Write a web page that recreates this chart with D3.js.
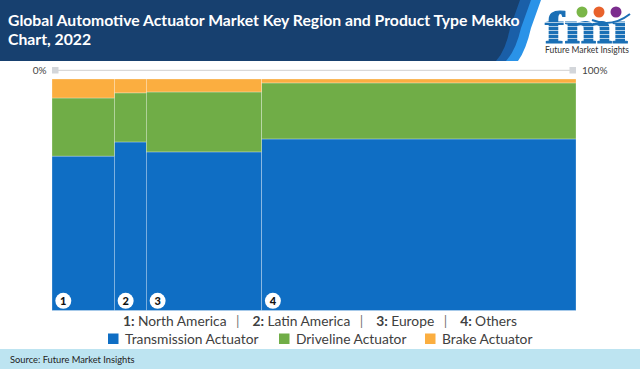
<!DOCTYPE html>
<html>
<head>
<meta charset="utf-8">
<script src="https://cdn.jsdelivr.net/npm/d3@7"></script>
<style>
  html, body { margin: 0; padding: 0; background: #fff; }
  svg { display: block; }
  text { font-family: Lato, "Open Sans", sans-serif; }
</style>
</head>
<body>
<div id="chart"></div>
<script>
// data
const regions = ['North America', 'Latin America', 'Europe', 'Others'];
const regionShare = [11.9, 6.1, 22, 60];
const products = ['Transmission Actuator', 'Driveline Actuator', 'Brake Actuator'];
const transmission = [66.7, 72.8, 68.5, 74.1];
const driveline = [25.1, 21.2, 25.9, 24.2];
const brake = [8.2, 6, 5.6, 1.7];
const axisLabels = ['0%', '100%'];
const titleLines = ['Global Automotive Actuator Market Key Region and Product Type Mekko', 'Chart, 2022'];
const sourceText = 'Source: Future Market Insights';

const colors = ['#0f6ec4', '#70ad47', '#fbae40'];

const W = 640, H = 369;
const svg = d3.select('#chart').append('svg').attr('width', W).attr('height', H);

// header band with the two slanted strips on its right end
svg.append('path').attr('d', 'M541,0 L531,28 Q526,50 518,61 L0,61 L0,0 Z').attr('fill', '#2a93e8');
svg.append('path').attr('d', 'M531,0 L521,28 Q516,50 506,61 L0,61 L0,0 Z').attr('fill', '#1a5fa8');
svg.append('path').attr('d', 'M520,0 L510,28 Q506,50 496,61 L0,61 L0,0 Z').attr('fill', '#17406f');

svg.selectAll('.title').data(titleLines).enter().append('text')
    .attr('class', 'title')
    .attr('x', 8)
    .attr('y', (d, i) => 26 + i * 18.5)
    .attr('fill', '#fff')
    .attr('font-size', '15.75px')
    .attr('font-weight', 700)
    .text(d => d);

// logo
let logo = svg.append('g');
logo.append('text').attr('x', 545).attr('y', 43)
    .attr('font-size', '46px').attr('font-weight', 700)
    .style('font-family', '"Liberation Serif", serif')
    .attr('fill', '#1a6fb5').attr('stroke', '#1a6fb5').attr('stroke-width', 1.2)
    .attr('textLength', 83).attr('lengthAdjust', 'spacingAndGlyphs')
    .text('fmi');
// stripes across the letters
[22, 26, 30, 34, 38].forEach(function (y) {
    logo.append('rect').attr('x', 544).attr('y', y).attr('width', 86).attr('height', 1).attr('fill', '#fff').attr('opacity', 0.65);
});
// hide the dot of the i, the circles and the swoosh stand in for it
logo.append('rect').attr('x', 610).attr('y', 6).attr('width', 20).attr('height', 14).attr('fill', '#fff');
[[582, '#7ab648'], [599, '#e8622c'], [616, '#7b2d8e']].forEach(function (c) {
    logo.append('circle').attr('cx', c[0]).attr('cy', 12).attr('r', 5.5).attr('fill', c[1]);
});
logo.append('path').attr('d', 'M592,20 Q612,28 630,14').attr('fill', 'none').attr('stroke', '#1a6fb5').attr('stroke-width', 2);
logo.append('text').attr('x', 545).attr('y', 52.5).attr('font-size', '8.5px').attr('fill', '#333')
    .text('Future Market Insights');

// scales
let x = d3.scaleLinear().domain([0, 100]).range([52, 576]);
let y = d3.scaleLinear().domain([0, 100]).range([310.5, 79]);

// top axis line with the two end markers
let axisY = 70.3;
svg.append('line').attr('x1', x(0)).attr('x2', x(100)).attr('y1', axisY).attr('y2', axisY)
    .attr('stroke', '#d0d0d0').attr('stroke-width', 1);
svg.selectAll('.endmark').data([0, 100]).enter().append('rect')
    .attr('class', 'endmark')
    .attr('x', d => d ? x(d) - 6.5 : x(d))
    .attr('y', axisY - 3.3)
    .attr('width', 6.5).attr('height', 6.5)
    .attr('fill', '#d3d6da');
svg.append('text').attr('x', 46.5).attr('y', axisY + 3.5).attr('text-anchor', 'end')
    .attr('font-size', '10px').attr('fill', '#444').text(axisLabels[0]);
svg.append('text').attr('x', 582).attr('y', axisY + 3.5)
    .attr('font-size', '10px').attr('fill', '#444').text(axisLabels[1]);

// mekko columns
let rows = regions.map(function (r, i) {
    return { region: r, share: regionShare[i], s0: transmission[i], s1: driveline[i], s2: brake[i] };
});
let stack = d3.stack().keys(['s0', 's1', 's2']);
let starts = d3.cumsum(regionShare);

let layers = svg.selectAll('.layer').data(stack(rows)).enter().append('g')
    .attr('class', 'layer')
    .attr('fill', (d, i) => colors[i]);
layers.selectAll('rect').data(d => d).enter().append('rect')
    .attr('x', (d, i) => x(starts[i] - regionShare[i]))
    .attr('width', (d, i) => x(starts[i]) - x(starts[i] - regionShare[i]))
    .attr('y', d => y(d[1]))
    .attr('height', d => y(d[0]) - y(d[1]))
    .attr('stroke', 'rgba(255,255,255,0.45)')
    .attr('stroke-width', 0.6);

// numbered badges
let badges = svg.selectAll('.badge').data(regions).enter().append('g')
    .attr('class', 'badge')
    .attr('transform', (d, i) => 'translate(' + (x(starts[i] - regionShare[i]) + 11.3) + ',300.8)');
badges.append('circle').attr('r', 8).attr('fill', '#fff');
badges.append('text').attr('y', 4).attr('text-anchor', 'middle')
    .attr('font-size', '11px').attr('font-weight', 900).attr('fill', '#111')
    .text((d, i) => i + 1);

// region key line
let key = svg.append('text').attr('x', 320).attr('y', 325.5).attr('text-anchor', 'middle')
    .attr('font-size', '13.8px').attr('fill', '#404040');
regions.forEach(function (r, i) {
    key.append('tspan').attr('font-weight', 700).text((i + 1) + ': ');
    key.append('tspan').text(r);
    if (i < regions.length - 1) {
        key.append('tspan').attr('dx', 9.5).text('|').attr('fill', '#777');
        key.append('tspan').attr('dx', 9.5).text(' ');
    }
});

// product legend
let legendX = [108, 279, 425];
let legend = svg.selectAll('.legend').data(products).enter().append('g')
    .attr('class', 'legend')
    .attr('transform', (d, i) => 'translate(' + legendX[i] + ',333.5)');
legend.append('rect').attr('width', 10.5).attr('height', 10.5).attr('fill', (d, i) => colors[i]);
legend.append('text').attr('x', 17).attr('y', 10)
    .attr('font-size', '13.8px').attr('fill', '#404040').text(d => d);

// footer
svg.append('rect').attr('x', 0).attr('y', 349).attr('width', W).attr('height', 20).attr('fill', '#bde4f1');
svg.append('text').attr('x', 10).attr('y', 363).attr('font-size', '9.3px').attr('fill', '#222').text(sourceText);
</script>
</body>
</html>
